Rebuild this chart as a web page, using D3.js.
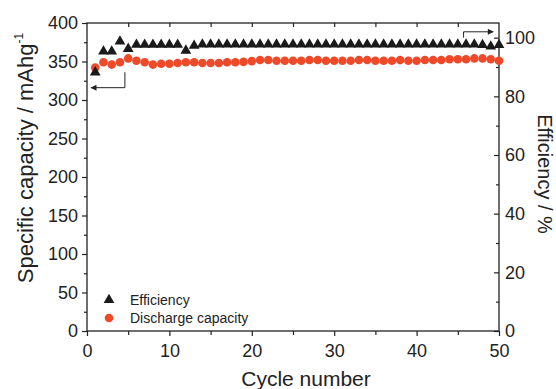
<!DOCTYPE html>
<html>
<head>
<meta charset="utf-8">
<script src="https://cdn.jsdelivr.net/npm/d3@7"></script>
<style>
  body { margin: 0; background: #fff; }
  svg { display: block; font-family: 'Liberation Sans', Arial, sans-serif; }
</style>
</head>
<body>
<div id="chart"></div>
<script>
// cycle numbers 1..50
const cycles = [1, 2, 3, 4, 5, 6, 7, 8, 9, 10, 11, 12, 13, 14, 15, 16, 17, 18, 19, 20,
  21, 22, 23, 24, 25, 26, 27, 28, 29, 30, 31, 32, 33, 34, 35, 36, 37, 38, 39, 40,
  41, 42, 43, 44, 45, 46, 47, 48, 49, 50];

// coulombic efficiency (%)
const efficiency = [88.2, 95.3, 95.3, 98.7, 96.2, 97.6, 97.6, 97.6, 97.6, 97.6,
  97.6, 95.6, 97.3, 97.7, 97.7, 97.7, 97.7, 97.7, 97.7, 97.7,
  97.7, 97.7, 97.7, 97.7, 97.7, 97.7, 97.7, 97.7, 97.7, 97.7,
  97.7, 97.7, 97.7, 97.7, 97.7, 97.7, 97.7, 97.7, 97.7, 97.7,
  97.7, 97.7, 97.7, 97.7, 97.7, 97.7, 97.7, 97.5, 97.0, 97.5];

// discharge capacity (mAh/g)
const capacity = [342, 349, 346, 349, 354, 351, 349, 346, 347, 347,
  348, 349, 349, 348, 348, 348, 349, 349, 349.5, 350.5,
  352, 352, 351, 351, 351, 351, 352, 352, 351, 351,
  351, 351, 352, 352, 351, 351, 351, 352, 351, 351,
  352, 352, 352, 353, 353, 353, 354, 354, 353, 351];

const xTicks = [0, 10, 20, 30, 40, 50];
const leftTicks = [0, 50, 100, 150, 200, 250, 300, 350, 400];
const rightTicks = [0, 20, 40, 60, 80, 100];

const width = 556;
const height = 389;
const margin = ({ top: 23, right: 57, bottom: 58, left: 87 });
const axisColor = '#222';

const x = d3.scaleLinear()
  .domain([0, 50])
  .range([margin.left, width - margin.right]);
const yL = d3.scaleLinear()
  .domain([0, 400])
  .range([height - margin.bottom, margin.top]);
const yR = d3.scaleLinear()
  .domain([0, 105])
  .range([height - margin.bottom, margin.top]);

const svg = d3.select('#chart').append('svg')
  .attr('width', width)
  .attr('height', height);

const defs = svg.append('defs');
defs.append('marker')
  .attr('id', 'head')
  .attr('viewBox', '0 0 10 10')
  .attr('refX', 9)
  .attr('refY', 5)
  .attr('markerWidth', 9)
  .attr('markerHeight', 6)
  .attr('markerUnits', 'userSpaceOnUse')
  .attr('orient', 'auto')
  .append('path')
  .attr('d', 'M0,0L10,5L0,10z')
  .attr('fill', axisColor);

function styleAxis(g) {
  g.selectAll('.domain').remove();
  g.selectAll('line').attr('stroke', axisColor).attr('stroke-width', 1.2);
  g.selectAll('text')
    .attr('fill', '#222')
    .style('font-size', '18px');
}

const minorX = d3.range(5, 50, 10);

// bottom axis
svg.append('g')
  .attr('transform', `translate(0,${height - margin.bottom})`)
  .call(d3.axisBottom(x).tickValues(xTicks).tickSize(5).tickPadding(8))
  .call(styleAxis);
svg.append('g')
  .attr('transform', `translate(0,${height - margin.bottom})`)
  .call(d3.axisBottom(x).tickValues(minorX).tickSize(4).tickFormat(''))
  .call(styleAxis);

// top axis (ticks only, pointing in)
svg.append('g')
  .attr('transform', `translate(0,${margin.top})`)
  .call(d3.axisTop(x).tickValues(d3.range(5, 50, 5)).tickSize(-4).tickFormat(''))
  .call(styleAxis);

// left axis
svg.append('g')
  .attr('transform', `translate(${margin.left},0)`)
  .call(d3.axisLeft(yL).tickValues(leftTicks).tickSize(5).tickPadding(4))
  .call(styleAxis);
svg.append('g')
  .attr('transform', `translate(${margin.left},0)`)
  .call(d3.axisLeft(yL).tickValues(d3.range(25, 400, 50)).tickSize(3).tickFormat(''))
  .call(styleAxis);

// right axis, ticks pointing in
svg.append('g')
  .attr('transform', `translate(${width - margin.right},0)`)
  .call(d3.axisRight(yR).tickValues(rightTicks).tickSize(-5).tickPadding(6))
  .call(styleAxis);
svg.append('g')
  .attr('transform', `translate(${width - margin.right},0)`)
  .call(d3.axisRight(yR).tickValues(d3.range(10, 105, 20)).tickSize(-3).tickFormat(''))
  .call(styleAxis);

// frame
svg.append('rect')
  .attr('x', margin.left)
  .attr('y', margin.top)
  .attr('width', width - margin.left - margin.right)
  .attr('height', height - margin.top - margin.bottom)
  .attr('fill', 'none')
  .attr('stroke', axisColor)
  .attr('stroke-width', 1.3);

// discharge capacity points
svg.append('g')
  .selectAll('circle')
  .data(cycles)
  .enter()
  .append('circle')
  .attr('cx', d => x(d))
  .attr('cy', (d, i) => yL(capacity[i]))
  .attr('r', 4.3)
  .attr('fill', '#ee4a2a');

// efficiency points
const tri = d3.symbol().type(d3.symbolTriangle).size(50);
svg.append('g')
  .selectAll('path')
  .data(cycles)
  .enter()
  .append('path')
  .attr('transform', (d, i) => `translate(${x(d)},${yR(efficiency[i])})`)
  .attr('d', tri)
  .attr('fill', '#1a1a1a');

// arrows pointing to the axis each series belongs to
const line = d3.line();
svg.append('path')
  .attr('d', line([[x(4.6), yL(336)], [x(4.6), yL(316)], [x(0.5), yL(316)]]))
  .attr('fill', 'none')
  .attr('stroke', axisColor)
  .attr('stroke-width', 1)
  .attr('marker-end', 'url(#head)');
svg.append('path')
  .attr('d', line([[x(45.7), yR(100)], [x(45.7), yR(102)], [x(49.3), yR(102)]]))
  .attr('fill', 'none')
  .attr('stroke', axisColor)
  .attr('stroke-width', 1)
  .attr('marker-end', 'url(#head)');

// legend
const legend = svg.append('g')
  .attr('transform', `translate(${margin.left + 22},300)`);
legend.append('path')
  .attr('d', tri)
  .attr('fill', '#1a1a1a');
legend.append('text')
  .attr('x', 21)
  .attr('y', 5)
  .text('Efficiency')
  .style('font-size', '14px')
  .attr('fill', '#222');
legend.append('circle')
  .attr('cy', 18)
  .attr('r', 4.3)
  .attr('fill', '#ee4a2a');
legend.append('text')
  .attr('x', 21)
  .attr('y', 23)
  .text('Discharge capacity')
  .style('font-size', '14px')
  .attr('fill', '#222');

// axis titles
svg.append('text')
  .attr('x', 306)
  .attr('y', height - 3)
  .attr('text-anchor', 'middle')
  .style('font-size', '21px')
  .attr('fill', '#222')
  .text('Cycle number');

const yTitle = svg.append('text')
  .attr('transform', 'translate(33,158) rotate(-90)')
  .attr('text-anchor', 'middle')
  .style('font-size', '22px')
  .attr('fill', '#222');
yTitle.append('tspan').text('Specific capacity / mAhg');
yTitle.append('tspan')
  .attr('dy', -10)
  .style('font-size', '12px')
  .text('-1');

svg.append('text')
  .attr('transform', `translate(538,174) rotate(90)`)
  .attr('text-anchor', 'middle')
  .style('font-size', '20px')
  .attr('fill', '#222')
  .text('Efficiency / %');
</script>
</body>
</html>
